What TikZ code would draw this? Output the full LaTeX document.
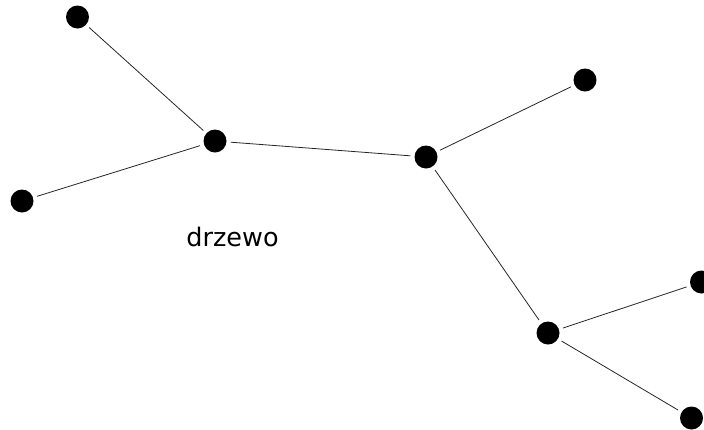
\documentclass[tikz,border=0pt]{standalone}
\usepackage{fontspec}
\setmainfont{DejaVu Sans}

\begin{document}
\begin{tikzpicture}[x=1pt,y=-1pt,
    wezel/.style={circle,fill=black,inner sep=0pt,minimum size=23pt},
    krawedz/.style={line width=0.8pt,black!85,shorten >=4pt,shorten <=4pt}]
    \useasboundingbox (0,0) rectangle (704,429);
    %vertices
    \node [wezel] (w1) at (77.5,17){};
    \node [wezel] (w2) at (215,141){};
    \node [wezel] (w3) at (22,201){};
    \node [wezel] (w4) at (426,157){};
    \node [wezel] (w5) at (585,80){};
    \node [wezel] (w6) at (548,333){};
    \node [wezel] (w7) at (701.5,282){};
    \node [wezel] (w8) at (691.5,418){};
    %edges
    \draw [krawedz] (w1) -- (w2);
    \draw [krawedz] (w3) -- (w2);
    \draw [krawedz] (w2) -- (w4);
    \draw [krawedz] (w4) -- (w5);
    \draw [krawedz] (w4) -- (w6);
    \draw [krawedz] (w6) -- (w7);
    \draw [krawedz] (w6) -- (w8);
    %label
    \node [anchor=base,font=\fontsize{25.5}{28}\selectfont] (opis) at (232.5,246){drzewo};
\end{tikzpicture}
\end{document}
